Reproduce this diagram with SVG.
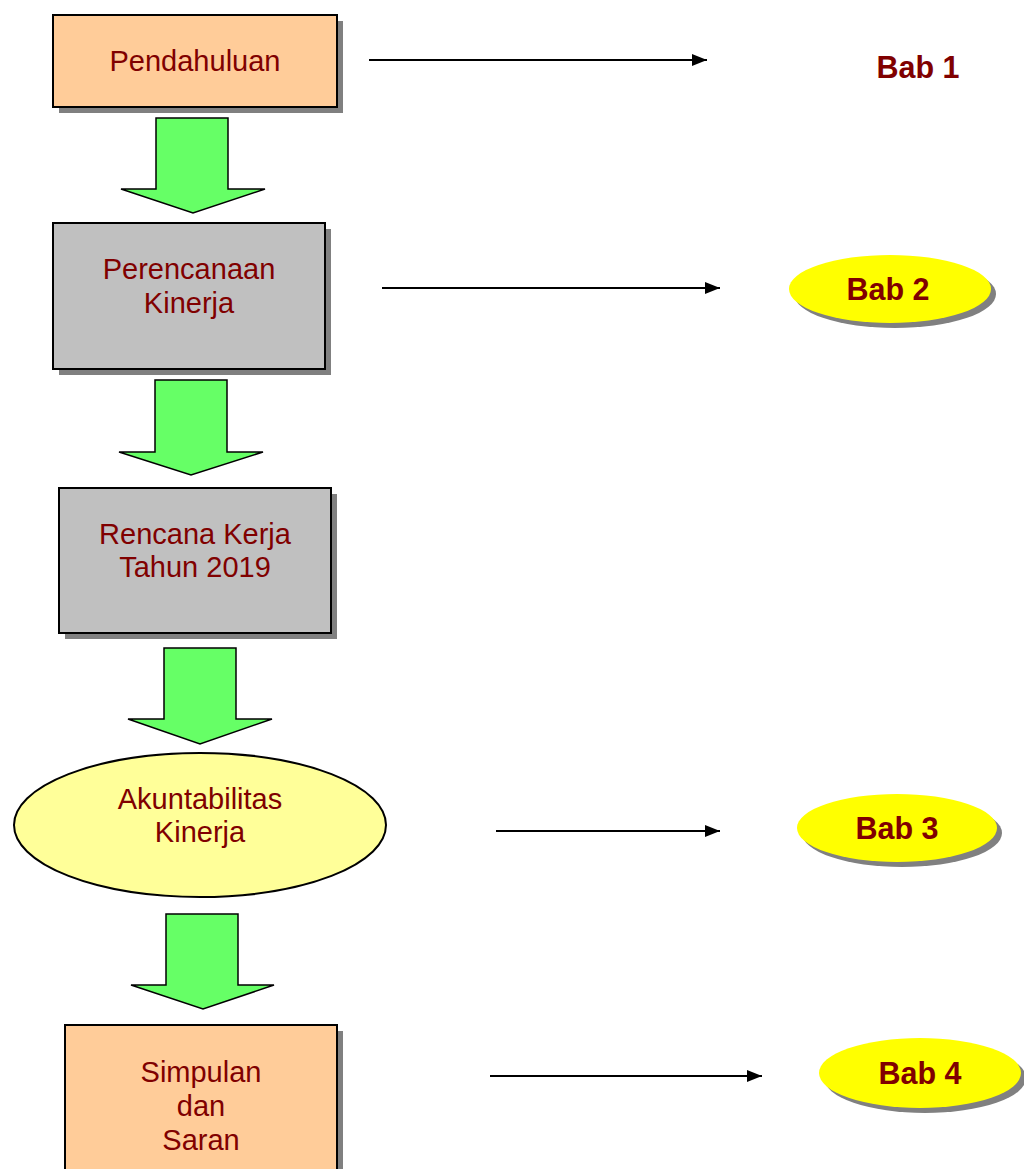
<svg xmlns="http://www.w3.org/2000/svg" width="1024" height="1169" viewBox="0 0 1024 1169">
<defs>
<style>
.lbl{font-family:"Liberation Sans",Arial,sans-serif;font-size:29px;fill:#800000;text-anchor:middle}
.bab{font-family:"Liberation Sans",Arial,sans-serif;font-size:30.5px;font-weight:bold;fill:#800000;text-anchor:middle}
.box{stroke:#000;stroke-width:2}
.sh{fill:#808080}
.green{fill:#66FF66;stroke:#000;stroke-width:1.5;stroke-linejoin:miter}
.conn{stroke:#000;stroke-width:2;fill:none}
</style>
<marker id="ah" markerWidth="16" markerHeight="14" refX="15" refY="7" orient="auto" markerUnits="userSpaceOnUse" viewBox="0 0 16 14">
<path d="M0,1 L15,7 L0,13 Z" fill="#000"/>
</marker>
</defs>
<rect width="1024" height="1169" fill="#fff"/>

<g id="pendahuluan">
<rect class="sh" x="59" y="21" width="284" height="92"/>
<rect class="box" x="53" y="15" width="284" height="92" fill="#FFCC99"/>
<text class="lbl" x="195" y="71">Pendahuluan</text>
</g>

<g id="perencanaan">
<rect class="sh" x="59" y="229" width="272" height="146"/>
<rect class="box" x="53" y="223" width="272" height="146" fill="#C0C0C0"/>
<text class="lbl" x="189" y="279">Perencanaan</text>
<text class="lbl" x="189" y="313">Kinerja</text>
</g>

<g id="rencana">
<rect class="sh" x="65" y="494" width="272" height="145"/>
<rect class="box" x="59" y="488" width="272" height="145" fill="#C0C0C0"/>
<text class="lbl" x="195" y="544">Rencana Kerja</text>
<text class="lbl" x="195" y="577">Tahun 2019</text>
</g>

<g id="akuntabilitas">
<ellipse cx="200" cy="825" rx="186" ry="72" fill="#FFFF99" stroke="#000" stroke-width="2"/>
<text class="lbl" x="200" y="809">Akuntabilitas</text>
<text class="lbl" x="200" y="842">Kinerja</text>
</g>

<g id="simpulan">
<rect class="sh" x="71" y="1031" width="272" height="150"/>
<rect class="box" x="65" y="1025" width="272" height="150" fill="#FFCC99"/>
<text class="lbl" x="201" y="1082">Simpulan</text>
<text class="lbl" x="201" y="1116">dan</text>
<text class="lbl" x="201" y="1150">Saran</text>
</g>

<g id="bab1">
<text class="bab" x="918" y="78">Bab 1</text>
</g>

<g id="bab2">
<ellipse class="sh" cx="895" cy="294" rx="101" ry="34"/>
<ellipse cx="890" cy="289" rx="101" ry="34" fill="#FFFF00"/>
<text class="bab" x="888" y="300">Bab 2</text>
</g>

<g id="bab3">
<ellipse class="sh" cx="902" cy="833" rx="100" ry="34"/>
<ellipse cx="897" cy="828" rx="100" ry="34" fill="#FFFF00"/>
<text class="bab" x="897" y="839">Bab 3</text>
</g>

<g id="bab4">
<ellipse class="sh" cx="925" cy="1078" rx="101" ry="35"/>
<ellipse cx="920" cy="1073" rx="101" ry="35" fill="#FFFF00"/>
<text class="bab" x="920" y="1084">Bab 4</text>
</g>

<g id="connectors">
<path class="green" d="M156,118 H228 V189 H265 L193,213 L121,189 H156 Z"/>
<path class="green" d="M155,380 H227 V452 H263 L191,475 L119,452 H155 Z"/>
<path class="green" d="M164,648 H236 V719 H272 L200,744 L128,719 H164 Z"/>
<path class="green" d="M166,914 H238 V985 H274 L203,1009 L131,985 H166 Z"/>
<line class="conn" x1="369" y1="60" x2="707" y2="60" marker-end="url(#ah)"/>
<line class="conn" x1="382" y1="288" x2="720" y2="288" marker-end="url(#ah)"/>
<line class="conn" x1="496" y1="831" x2="720" y2="831" marker-end="url(#ah)"/>
<line class="conn" x1="490" y1="1076" x2="762" y2="1076" marker-end="url(#ah)"/>
</g>
</svg>
